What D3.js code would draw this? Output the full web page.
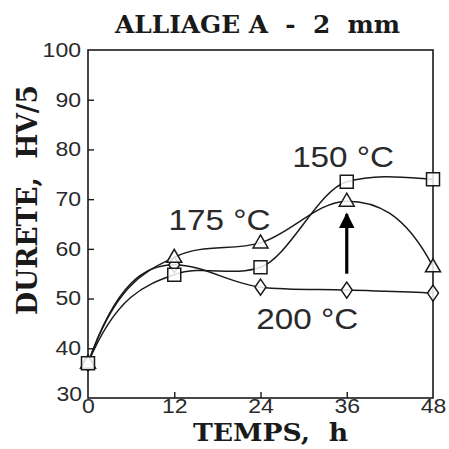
<!DOCTYPE html>
<html><head><meta charset="utf-8">
<script src="https://cdn.jsdelivr.net/npm/d3@7"></script>
<style>body{margin:0;background:#fff}svg{display:block}</style>
</head><body>
<svg id="c" width="449" height="449"></svg>
<script>
const hours = [0, 12, 24, 36, 48];
const s150 = [37, 54.8, 56.3, 73.5, 74.0];
const s175 = [37, 58.3, 61.2, 69.6, 56.4];
const s200 = [37, 56.8, 52.3, 51.7, 51.1];
const yTicks = [30, 40, 50, 60, 70, 80, 90, 100];
const xTicks = [0, 12, 24, 36, 48];
const labels = [
  {text: "150 °C", x: 28.4, y: 76.5},
  {text: "175 °C", x: 11.2, y: 63.8},
  {text: "200 °C", x: 23.4, y: 43.9}
];
const arrow = {x: 36, from: 55, to: 67};

const svg = d3.select("#c");
const W = 449, H = 449;
const m = {l: 88, r: 16, t: 50, b: 51};
const x = d3.scaleLinear().domain([0, 48]).range([m.l, W - m.r]);
const y = d3.scaleLinear().domain([30, 100]).range([H - m.b, m.t]);
const ink = "#1a1a1a";

// smooth hand-drawn-like Hermite curve factory for d3.line
function curveHand(context) {
  let pts = [];
  return {
    areaStart() {}, areaEnd() {},
    lineStart() { pts = []; },
    point(px, py) { pts.push([+px, +py]); },
    lineEnd() {
      const n = pts.length;
      if (!n) return;
      const s = [];
      for (let i = 0; i < n - 1; i++) s.push((pts[i+1][1] - pts[i][1]) / (pts[i+1][0] - pts[i][0]));
      const t = new Array(n).fill(0);
      for (let i = 1; i < n - 1; i++) {
        const a = s[i-1], b = s[i];
        if (a * b <= 0) { t[i] = 0; continue; }
        const harm = 2 * a * b / (a + b);
        const cr = (pts[i+1][1] - pts[i-1][1]) / (pts[i+1][0] - pts[i-1][0]);
        t[i] = (harm + cr) / 2;
      }
      if (n > 1) {
        t[0] = 2.5 * s[0] - 0.5 * t[1];
        t[n-1] = 2.5 * s[n-2] - 0.5 * t[n-2];
      }
      context.moveTo(pts[0][0], pts[0][1]);
      for (let i = 0; i < n - 1; i++) {
        const h = (pts[i+1][0] - pts[i][0]) / 3;
        context.bezierCurveTo(pts[i][0] + h, pts[i][1] + h * t[i],
          pts[i+1][0] - h, pts[i+1][1] - h * t[i+1], pts[i+1][0], pts[i+1][1]);
      }
    }
  };
}

// frame
svg.append("rect").attr("x", x(0)).attr("y", y(100))
  .attr("width", x(48) - x(0)).attr("height", y(30) - y(100))
  .attr("fill", "none").attr("stroke", ink).attr("stroke-width", 1.6);

// axes
const ya = svg.append("g").attr("transform", `translate(${x(0)},0)`)
  .call(d3.axisLeft(y).tickValues(yTicks).tickSize(-6).tickPadding(12).tickFormat(d3.format("d")));
const xa = svg.append("g").attr("transform", `translate(0,${y(30)})`)
  .call(d3.axisBottom(x).tickValues(xTicks).tickSize(-6).tickPadding(4).tickFormat(d3.format("d")));
[ya, xa].forEach(g => {
  g.select(".domain").remove();
  g.selectAll(".tick line").attr("stroke", ink).attr("stroke-width", 1.4);
  g.selectAll("text").attr("fill", "#2a2a2a").attr("font-family", "Liberation Sans, Arial, sans-serif")
    .attr("font-size", 20).attr("textLength", d => String(d).length * 12.8)
    .attr("lengthAdjust", "spacingAndGlyphs");
});
ya.selectAll(".tick text").attr("dx", 5);
ya.selectAll(".tick").filter(d => d === 30).select("text").attr("dx", 6).attr("dy", "0.1em");
ya.selectAll(".tick").filter(d => d === 30 || d === 100).select("line").remove();
xa.selectAll(".tick").filter(d => d === 0 || d === 48).select("line").remove();
xa.selectAll(".tick text").attr("y", 0).attr("dy", "0.75em");

// curves
const line = d3.line().x((d, i) => x(hours[i])).y(d => y(d)).curve(curveHand);
[s150, s175, s200].forEach(s => {
  svg.append("path").attr("d", line(s)).attr("fill", "none")
    .attr("stroke", ink).attr("stroke-width", 1.5);
});

// markers
function drawMarkers(s, type) {
  const g = svg.append("g");
  s.forEach((v, i) => {
    const cx = x(hours[i]), cy = y(v);
    let p;
    if (type === "square") p = `M${cx-6.5},${cy-6.5}h13v13h-13Z`;
    else if (type === "tri") p = `M${cx},${cy-8}L${cx+7.5},${cy+5}L${cx-7.5},${cy+5}Z`;
    else p = `M${cx},${cy-8}L${cx+5.5},${cy}L${cx},${cy+8}L${cx-5.5},${cy}Z`;
    g.append("path").attr("d", p).attr("fill", "#fff").attr("fill-opacity", 0.85)
      .attr("stroke", ink).attr("stroke-width", 1.5);
  });
}
drawMarkers(s200, "diamond");
drawMarkers(s175, "tri");
drawMarkers(s150, "square");

// arrow
svg.append("defs").append("marker").attr("id", "ah")
  .attr("viewBox", "0 0 10 10").attr("refX", 9).attr("refY", 5)
  .attr("markerWidth", 5).attr("markerHeight", 5).attr("orient", "auto")
  .attr("markerUnits", "strokeWidth")
  .append("path").attr("d", "M0,0L10,5L0,10Z").attr("fill", "#000");
svg.append("line").attr("x1", x(arrow.x)).attr("x2", x(arrow.x))
  .attr("y1", y(arrow.from)).attr("y2", y(arrow.to))
  .attr("stroke", "#000").attr("stroke-width", 3.2).attr("marker-end", "url(#ah)");

// curve labels
labels.forEach(l => {
  svg.append("text").attr("x", x(l.x)).attr("y", y(l.y)).text(l.text)
    .attr("font-family", "Liberation Sans, Arial, sans-serif").attr("font-size", 30)
    .attr("fill", "#2a2a2a").attr("textLength", 102).attr("lengthAdjust", "spacingAndGlyphs");
});

// titles
const serif = "DejaVu Serif, Liberation Serif, serif";
svg.append("text").attr("x", 115).attr("y", 33).text("ALLIAGE A  -  2  mm")
  .attr("font-family", serif).attr("font-weight", "bold").attr("font-size", 24)
  .attr("fill", "#1a1a1a").attr("textLength", 285).attr("lengthAdjust", "spacingAndGlyphs")
  .style("white-space", "pre");
svg.append("text").attr("x", 193).attr("y", 441).text("TEMPS,  h")
  .attr("font-family", serif).attr("font-weight", "bold").attr("font-size", 25)
  .attr("fill", "#1a1a1a").attr("textLength", 155).attr("lengthAdjust", "spacingAndGlyphs")
  .style("white-space", "pre");
svg.append("text").attr("transform", "translate(37,315) rotate(-90)").text("DURETE,  HV/5")
  .attr("font-family", serif).attr("font-weight", "bold").attr("font-size", 28)
  .attr("fill", "#1a1a1a").attr("textLength", 230).attr("lengthAdjust", "spacingAndGlyphs")
  .style("white-space", "pre");
</script>
</body></html>
